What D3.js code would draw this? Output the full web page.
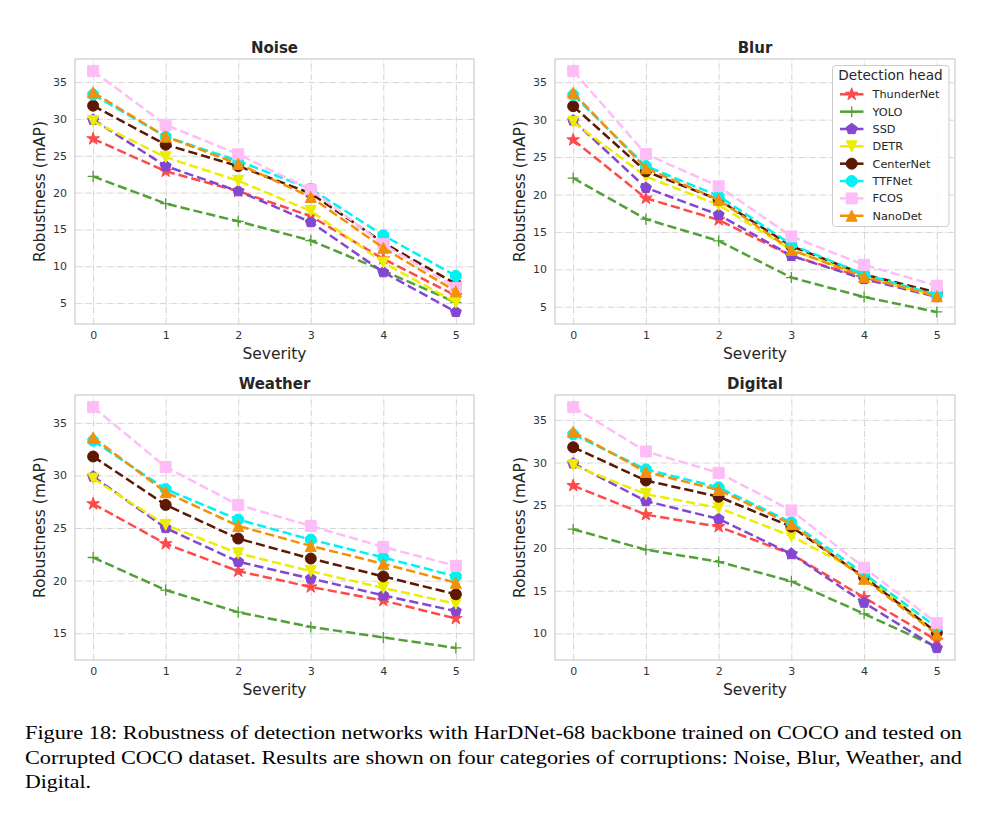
<!DOCTYPE html>
<html><head><meta charset="utf-8">
<script src="https://cdn.jsdelivr.net/npm/d3@7"></script>
<style>body{margin:0;background:#fff}</style>
</head><body>
<svg id="c" width="990" height="816" xmlns="http://www.w3.org/2000/svg"></svg>
<script>
// ---------------- data ----------------
const severities = [0, 1, 2, 3, 4, 5];
const heads = ["ThunderNet", "YOLO", "SSD", "DETR", "CenterNet", "TTFNet", "FCOS", "NanoDet"];
const headColors = ["#ff4a4a", "#52a036", "#8347d1", "#eded00", "#5c1800", "#00f2f2", "#ffbdf7", "#f29105"];
const headMarkers = ["star", "plus", "pentagon", "tridown", "circle", "octagon", "square", "triup"];
const panelTitles = ["Noise", "Blur", "Weather", "Digital"];

// order: ThunderNet, YOLO, SSD, DETR, CenterNet, TTFNet, FCOS, NanoDet
const noiseValues = [
  [27.3, 22.9, 20.2, 16.8, 11.0, 6.0],
  [22.2, 18.5, 16.1, 13.5, 9.4, 5.1],
  [29.9, 23.6, 20.2, 16.0, 9.2, 3.8],
  [29.7, 24.8, 21.6, 17.5, 10.5, 5.1],
  [31.8, 26.5, 23.6, 19.9, 13.2, 7.6],
  [33.3, 27.6, 24.3, 20.5, 14.2, 8.7],
  [36.5, 29.2, 25.2, 20.4, 13.0, 7.1],
  [33.6, 27.6, 23.9, 19.4, 12.5, 6.6]
];
const blurValues = [
  [27.3, 19.5, 16.6, 11.8, 8.9, 6.5],
  [22.2, 16.7, 13.8, 8.9, 6.3, 4.3],
  [29.9, 20.9, 17.3, 11.8, 8.7, 6.3],
  [29.7, 22.4, 18.6, 12.6, 9.1, 6.4],
  [31.8, 23.1, 19.3, 13.1, 9.3, 6.9],
  [33.3, 23.8, 19.8, 13.3, 9.3, 6.6],
  [36.5, 25.4, 21.1, 14.4, 10.6, 7.8],
  [33.6, 23.5, 19.3, 12.6, 9.0, 6.4]
];
const weatherValues = [
  [27.3, 23.5, 20.9, 19.4, 18.1, 16.4],
  [22.2, 19.1, 17.0, 15.6, 14.6, 13.6],
  [29.9, 25.0, 21.8, 20.2, 18.6, 17.1],
  [29.7, 25.3, 22.6, 20.9, 19.3, 17.8],
  [31.8, 27.2, 24.0, 22.1, 20.4, 18.7],
  [33.3, 28.7, 25.8, 23.9, 22.2, 20.4],
  [36.5, 30.8, 27.2, 25.2, 23.2, 21.4],
  [33.6, 28.4, 25.2, 23.3, 21.6, 19.8]
];
const digitalValues = [
  [27.3, 23.9, 22.5, 19.3, 14.2, 9.2],
  [22.2, 19.8, 18.4, 16.1, 12.3, 8.4],
  [29.9, 25.5, 23.4, 19.3, 13.6, 8.3],
  [29.7, 26.3, 24.7, 21.4, 16.9, 10.0],
  [31.8, 27.9, 26.0, 22.5, 16.6, 10.1],
  [33.3, 29.2, 27.1, 23.0, 17.0, 10.7],
  [36.5, 31.3, 28.8, 24.4, 17.7, 11.2],
  [33.6, 28.9, 26.8, 22.8, 16.4, 9.9]
];
const panelValues = [noiseValues, blurValues, weatherValues, digitalValues];
const yTickSets = [
  [5, 10, 15, 20, 25, 30, 35],
  [5, 10, 15, 20, 25, 30, 35],
  [15, 20, 25, 30, 35],
  [10, 15, 20, 25, 30, 35]
];
const xLabel = "Severity";
const yLabel = "Robustness (mAP)";
const legendTitle = "Detection head";
const captionLines = [
  "Figure 18: Robustness of detection networks with HarDNet-68 backbone trained on COCO and tested on",
  "Corrupted COCO dataset. Results are shown on four categories of corruptions: Noise, Blur, Weather, and",
  "Digital."
];

// ---------------- layout ----------------
const svg = d3.select("#c");
const FONT = "DejaVu Sans, sans-serif";
const TXT = "#262626";
const boxes = [
  {x0: 75, x1: 474, y0: 59, y1: 324},
  {x0: 555, x1: 955, y0: 59, y1: 324},
  {x0: 75, x1: 474, y0: 395, y1: 660},
  {x0: 555, x1: 955, y0: 395, y1: 660}
];

function markerPath(type, s) {
  const r = s / 2;
  const poly = (n, rot, rad) => {
    const pts = [];
    for (let i = 0; i < n; i++) {
      const a = rot + i * 2 * Math.PI / n;
      pts.push([rad * Math.cos(a), rad * Math.sin(a)]);
    }
    return "M" + pts.map(p => p[0].toFixed(2) + "," + p[1].toFixed(2)).join("L") + "Z";
  };
  switch (type) {
    case "circle": return `M${r},0A${r},${r} 0 1,1 ${-r},0A${r},${r} 0 1,1 ${r},0Z`;
    case "square": return `M${-r},${-r}H${r}V${r}H${-r}Z`;
    case "triup": return `M0,${-r}L${r},${r}L${-r},${r}Z`;
    case "tridown": return `M0,${r}L${r},${-r}L${-r},${-r}Z`;
    case "pentagon": return poly(5, -Math.PI / 2, r * 1.05);
    case "octagon": return poly(8, Math.PI / 8, r * 1.05);
    case "star": {
      const pts = [];
      const R = r * 1.2, ri = R * 0.381966;
      for (let i = 0; i < 10; i++) {
        const a = -Math.PI / 2 + i * Math.PI / 5;
        const rr = i % 2 === 0 ? R : ri;
        pts.push([rr * Math.cos(a), rr * Math.sin(a)]);
      }
      return "M" + pts.map(p => p[0].toFixed(2) + "," + p[1].toFixed(2)).join("L") + "Z";
    }
    case "plus": return `M${-r},0H${r}M0,${-r}V${r}`;
  }
}

function drawMarker(g, type, color, x, y) {
  const p = g.append("path").attr("d", markerPath(type, 11)).attr("transform", `translate(${x},${y})`);
  if (type === "plus") {
    p.attr("fill", "none").attr("stroke", color).attr("stroke-width", 1.3);
  } else {
    p.attr("fill", color).attr("stroke", color).attr("stroke-width", 1);
  }
}

panelTitles.forEach((title, pi) => {
  const b = boxes[pi];
  const vals = panelValues[pi];
  const all = vals.flat();
  const lo = d3.min(all), hi = d3.max(all), pad = (hi - lo) * 0.05;
  const x = d3.scaleLinear().domain([-0.25, 5.25]).range([b.x0, b.x1]);
  const y = d3.scaleLinear().domain([lo - pad, hi + pad]).range([b.y1, b.y0]);
  const g = svg.append("g");

  // grid + tick labels
  const gx = g.append("g").attr("transform", `translate(0,${b.y1})`)
    .call(d3.axisBottom(x).tickValues(severities).tickSize(-(b.y1 - b.y0)).tickFormat(d3.format("d")).tickPadding(7));
  const gy = g.append("g").attr("transform", `translate(${b.x0},0)`)
    .call(d3.axisLeft(y).tickValues(yTickSets[pi]).tickSize(-(b.x1 - b.x0)).tickPadding(8));
  [gx, gy].forEach(ax => {
    ax.select(".domain").remove();
    ax.selectAll(".tick line").attr("stroke", "#d4d4d4").attr("stroke-width", 1)
      .attr("stroke-dasharray", "6.4,1.6,1,1.6");
    ax.selectAll(".tick text").attr("fill", "#333").style("font-family", FONT).style("font-size", "11px");
  });

  // frame
  g.append("rect").attr("x", b.x0).attr("y", b.y0).attr("width", b.x1 - b.x0).attr("height", b.y1 - b.y0)
    .attr("fill", "none").attr("stroke", "#cccccc").attr("stroke-width", 1.2);

  // series
  const line = d3.line().x((d, i) => x(severities[i])).y(d => y(d));
  vals.forEach((series, si) => {
    const sg = g.append("g");
    sg.append("path").datum(series).attr("d", line).attr("fill", "none")
      .attr("stroke", headColors[si]).attr("stroke-width", 2.5).attr("stroke-dasharray", "9.25,4");
    series.forEach((v, i) => drawMarker(sg, headMarkers[si], headColors[si], x(severities[i]), y(v)));
  });

  // titles
  const cx = (b.x0 + b.x1) / 2;
  g.append("text").attr("x", cx).attr("y", b.y0 - 6).attr("text-anchor", "middle")
    .style("font-family", FONT).style("font-size", "15px").style("font-weight", "bold").attr("fill", TXT).text(title);
  g.append("text").attr("x", cx).attr("y", b.y1 + 35).attr("text-anchor", "middle")
    .style("font-family", FONT).style("font-size", "15.5px").attr("fill", TXT).text(xLabel);
  g.append("text").attr("transform", `translate(${b.x0 - 30},${(b.y0 + b.y1) / 2}) rotate(-90)`)
    .attr("text-anchor", "middle").style("font-family", FONT).style("font-size", "15.5px").attr("fill", TXT).text(yLabel);

  // legend in Blur panel
  if (pi === 1) {
    const lg = g.append("g");
    lg.append("rect").attr("x", 832.5).attr("y", 65.5).attr("width", 116.5).attr("height", 161)
      .attr("rx", 3).attr("fill", "#fff").attr("fill-opacity", 0.85).attr("stroke", "#cccccc").attr("stroke-width", 1);
    lg.append("text").attr("x", 890.5).attr("y", 80).attr("text-anchor", "middle")
      .style("font-family", FONT).style("font-size", "13.6px").attr("fill", TXT).text(legendTitle);
    heads.forEach((h, si) => {
      const yy = 94.3 + si * 17.35;
      lg.append("line").attr("x1", 840).attr("x2", 863.5).attr("y1", yy).attr("y2", yy)
        .attr("stroke", headColors[si]).attr("stroke-width", 2.5);
      drawMarker(lg, headMarkers[si], headColors[si], 851.7, yy);
      lg.append("text").attr("x", 872.5).attr("y", yy + 4).style("font-family", FONT).style("font-size", "11.3px")
        .attr("fill", TXT).text(h);
    });
  }
});

// caption
const capBase = [739, 764, 788];
const capWidths = [937, 937, 66];
captionLines.forEach((t, i) => {
  svg.append("text").attr("x", 25).attr("y", capBase[i])
    .style("font-family", "Liberation Serif, DejaVu Serif, serif").style("font-size", "18.5px").attr("fill", "#000")
    .attr("textLength", capWidths[i]).attr("lengthAdjust", "spacingAndGlyphs").text(t);
});
</script>
</body></html>
